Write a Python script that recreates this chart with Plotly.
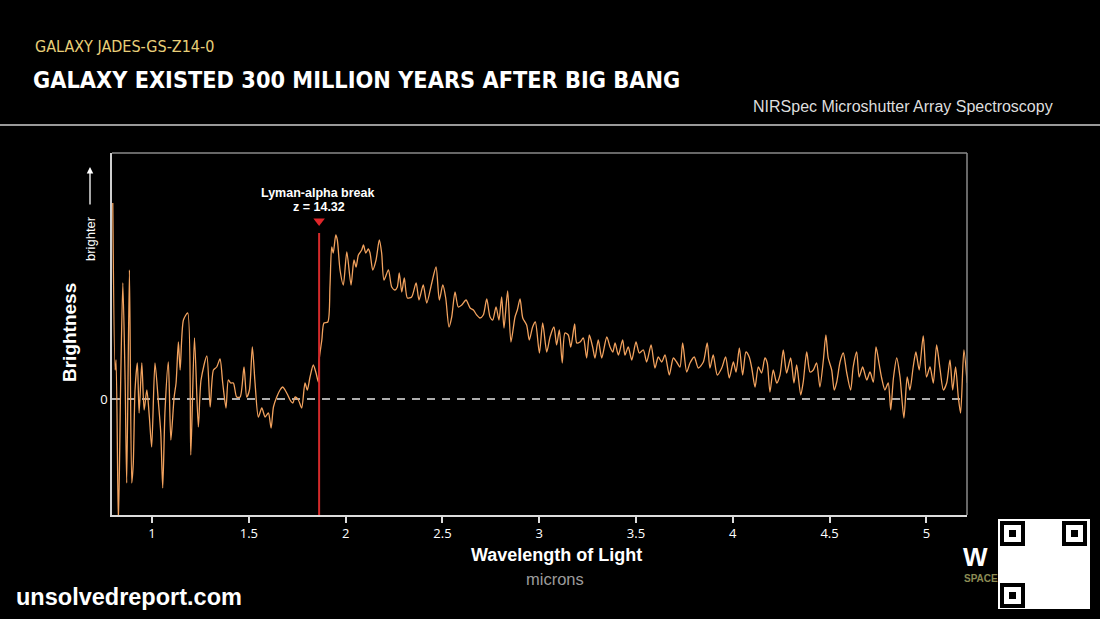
import plotly.graph_objects as go

# Wavelength (microns) and brightness (arbitrary units, 0 = no flux)
wavelength = [
    0.797, 0.809, 0.814, 0.826, 0.838, 0.849, 0.861, 0.869, 0.883, 0.895, 0.903, 0.912,
    0.924, 0.933, 0.947, 0.959, 0.973, 0.986, 0.998, 1.015, 1.033, 1.045, 1.055, 1.067,
    1.084, 1.097, 1.114, 1.124, 1.136, 1.145, 1.162, 1.184, 1.200, 1.219, 1.239, 1.253,
    1.283, 1.300, 1.317, 1.334, 1.351, 1.365, 1.382, 1.394, 1.406, 1.420, 1.437, 1.455,
    1.475, 1.489, 1.503, 1.518, 1.532, 1.549, 1.567, 1.584, 1.601, 1.615, 1.627, 1.644,
    1.661, 1.675, 1.687, 1.701, 1.713, 1.727, 1.739, 1.756, 1.773, 1.790, 1.802, 1.816,
    1.833, 1.847, 1.859,
    1.863, 1.877, 1.888, 1.908, 1.919, 1.928, 1.936, 1.949, 1.957, 1.971, 1.988, 2.006,
    2.028, 2.043, 2.054, 2.066, 2.083, 2.092, 2.104, 2.117, 2.126, 2.140, 2.157, 2.174,
    2.186, 2.198, 2.221, 2.238, 2.255, 2.267, 2.277, 2.290, 2.303, 2.319, 2.341, 2.364,
    2.379, 2.401, 2.419, 2.445, 2.467, 2.484, 2.502, 2.517, 2.534, 2.548, 2.565, 2.582,
    2.600, 2.622, 2.643, 2.660, 2.677, 2.694, 2.711, 2.729, 2.746, 2.760, 2.777, 2.792,
    2.806, 2.818, 2.837, 2.854, 2.875, 2.887, 2.901, 2.915, 2.935, 2.949, 2.966, 2.980,
    3.001, 3.018, 3.039, 3.056, 3.076, 3.090, 3.104, 3.119, 3.133, 3.150, 3.163, 3.183,
    3.194, 3.211,
    3.228, 3.245, 3.259, 3.276, 3.288, 3.305, 3.323, 3.349, 3.366, 3.380, 3.392, 3.409,
    3.431, 3.443, 3.460, 3.478, 3.500, 3.517, 3.538, 3.555, 3.578, 3.598, 3.615, 3.633,
    3.650, 3.672, 3.693, 3.710, 3.727, 3.741, 3.762, 3.779, 3.801, 3.822, 3.848, 3.868,
    3.882, 3.899, 3.920, 3.943, 3.963, 3.982, 4.003, 4.017, 4.034, 4.051, 4.068, 4.085,
    4.098, 4.115, 4.132, 4.149, 4.166, 4.178, 4.192,
    4.209, 4.227, 4.244, 4.261, 4.278, 4.299, 4.316, 4.330, 4.351, 4.364, 4.382, 4.399,
    4.416, 4.433, 4.450, 4.468, 4.481, 4.493, 4.511, 4.524, 4.537, 4.554, 4.571, 4.588,
    4.609, 4.622, 4.640, 4.653, 4.671, 4.692, 4.709, 4.726, 4.740, 4.757, 4.769, 4.786,
    4.803, 4.816, 4.830, 4.847, 4.864, 4.884, 4.901, 4.915, 4.932, 4.946, 4.963, 4.984,
    5.001, 5.019, 5.036, 5.053, 5.070, 5.088, 5.105, 5.122, 5.136, 5.151, 5.165, 5.177,
    5.194, 5.211,
]
brightness = [
    19.6, 2.9, 3.9, -12.5, 1.9, 11.6, 1.6, -8.4, 12.9, -8.4, -6.4, 0.9,
    3.6, -1.4, 3.6, -1.1, 0.9, -1.8, -4.8, 3.6, -0.4, -3.4, -8.9, -1.1,
    3.7, -4.1, 0.2, 1.6, 5.7, 2.9, 7.9, 8.6, -5.6, 6.1, -2.8, 1.9,
    4.3, -0.8, 2.9, 3.2, 4.0, 1.6, -0.9, 1.9, 1.6, 1.6, 0.2, 0.2,
    3.2, 0.2, 0.9, 5.2, 1.6, -1.8, -0.9, -1.8, -1.4, -2.9, -0.8, 0.2,
    0.9, 1.2, 0.9, 0.4, -0.1, -0.4, 0.2, -0.1, -0.9, 1.6, 0.9, 2.2,
    3.4, 2.6, 1.7,
    3.9, 5.9, 7.6, 7.7, 11.2, 15.2, 14.6, 16.4, 15.9, 12.9, 11.4, 14.7,
    11.4, 13.9, 13.2, 14.4, 14.9, 15.4, 14.6, 15.0, 14.6, 12.9, 13.9, 15.9,
    14.6, 11.9, 12.9, 11.2, 10.9, 11.2, 12.6, 10.7, 12.1, 10.1, 10.2, 11.6,
    9.9, 11.4, 9.6, 11.6, 13.2, 9.9, 11.4, 10.1, 7.2, 8.2, 10.7, 9.2,
    9.4, 9.9, 9.1, 8.9, 8.4, 8.1, 8.4, 10.0, 8.2, 7.9, 9.2, 7.9,
    10.2, 7.1, 10.8, 5.7, 8.2, 8.9, 10.0, 8.1, 7.4, 5.9, 7.2, 7.7,
    4.6, 7.6, 4.7, 6.2, 7.2, 5.4, 6.9, 3.6, 6.6, 6.4, 5.2, 7.5,
    5.6, 5.7,
    6.1, 4.1, 6.4, 5.2, 4.1, 5.9, 4.1, 6.2, 5.2, 4.7, 5.6, 4.4,
    5.9, 4.4, 5.2, 3.9, 5.7, 4.6, 4.9, 3.7, 5.4, 3.1, 4.2, 3.7,
    4.4, 2.4, 4.1, 3.7, 3.2, 5.6, 2.7, 3.6, 4.2, 3.1, 3.7, 5.6,
    3.1, 4.4, 2.4, 3.1, 4.2, 2.1, 3.7, 2.7, 5.1, 2.4, 4.7, 4.2,
    3.1, 1.2, 3.2, 2.6, 4.1, 3.6, 0.7,
    2.9, 1.6, 2.4, 4.9, 2.6, 4.1, 1.6, 3.4, 0.4, 1.7, 4.7, 2.7,
    2.9, 3.6, 1.2, 3.9, 6.4, 4.1, 2.9, 0.9, 1.7, 3.7, 4.6, 2.7,
    0.9, 3.2, 4.7, 2.2, 3.2, 1.9, 2.7, 1.7, 5.2, 3.4, 2.1, 0.9,
    1.6, -1.1, 2.1, 4.1, 2.2, -1.9, 2.2, 0.9, 3.2, 4.7, 2.9, 6.3,
    2.2, 3.2, 1.6, 5.4, 3.1, 0.9, 1.6, 3.9, 0.9, 3.2, 0.2, -1.4,
    4.9, 1.6,
]

x_ticks = [1, 1.5, 2, 2.5, 3, 3.5, 4, 4.5, 5]
x_tick_labels = ["1", "1.5", "2", "2.5", "3", "3.5", "4", "4.5", "5"]
x_range = [0.793, 5.21]
y_range = [-11.6, 24.6]

break_wavelength = 1.863   # Lyman-alpha break, z = 14.32
break_top = 16.6
marker_level = 17.8

fig = go.Figure()

# zero line
fig.add_trace(go.Scatter(
    x=x_range, y=[0, 0], mode="lines",
    line=dict(color="#e6e6e6", width=1.3, dash="8px,7px"),
    hoverinfo="skip", showlegend=False,
))

# spectrum
fig.add_trace(go.Scatter(
    x=wavelength, y=brightness, mode="lines",
    line=dict(color="#f2a25e", width=1.3, shape="spline", smoothing=0.7),
    showlegend=False,
))

# Lyman-alpha break line
fig.add_trace(go.Scatter(
    x=[break_wavelength, break_wavelength], y=[y_range[0], break_top], mode="lines",
    line=dict(color="#d42a2a", width=2),
    hoverinfo="skip", showlegend=False,
))
fig.add_trace(go.Scatter(
    x=[break_wavelength], y=[marker_level], mode="markers",
    marker=dict(symbol="triangle-down", size=10, color="#e0262a"),
    hoverinfo="skip", showlegend=False,
))

fig.update_layout(
    width=1100, height=619,
    paper_bgcolor="black", plot_bgcolor="black",
    margin=dict(l=112, r=133, t=153, b=104),
    xaxis=dict(
        range=x_range, tickvals=x_ticks, ticktext=x_tick_labels,
        showgrid=False, zeroline=False,
        showline=True, linecolor="#dcdcdc", linewidth=1.5,
        ticks="outside", ticklen=6, tickcolor="#dcdcdc", tickwidth=1.5,
        tickfont=dict(color="white", size=13, family="Open Sans"),
    ),
    yaxis=dict(
        range=y_range, tickvals=[0], ticktext=["0"],
        showgrid=False, zeroline=False,
        showline=True, linecolor="#cfcfcf", linewidth=1.5,
        ticks="", tickfont=dict(color="white", size=13, family="Open Sans"),
    ),
    font=dict(family="Liberation Sans", color="white"),
)

# top & right frame (gray)
fig.add_shape(type="line", xref="paper", yref="paper", x0=0, x1=1, y0=1, y1=1,
              line=dict(color="#8a8a8a", width=1.5))
fig.add_shape(type="line", xref="paper", yref="paper", x0=1, x1=1, y0=0, y1=1,
              line=dict(color="#8a8a8a", width=1.5))

# header separator
fig.add_shape(type="line", xref="paper", yref="paper",
              x0=-112 / 855, x1=(1100 - 112) / 855,
              y0=(515 - 125) / 362, y1=(515 - 125) / 362,
              line=dict(color="#9a9a9a", width=2))

def px(x):
    return (x - 112) / 855

def py(y):
    return (515 - y) / 362

annos = [
    dict(text="GALAXY JADES-GS-Z14-0", x=px(33), y=py(47), xanchor="left", yanchor="middle",
         font=dict(family="DejaVu Sans Condensed", size=16, color="#e9cf78")),
    dict(text="<b>GALAXY EXISTED 300 MILLION YEARS AFTER BIG BANG</b>", x=px(31), y=py(80),
         xanchor="left", yanchor="middle",
         font=dict(family="DejaVu Sans Condensed", size=23.3, color="white"), ),
    dict(text="NIRSpec Microshutter Array Spectroscopy", x=px(1055), y=py(106),
         xanchor="right", yanchor="middle",
         font=dict(family="Liberation Sans", size=16, color="#dedede")),
    dict(text="<b>Lyman-alpha break</b>", x=px(318), y=py(193), xanchor="center", yanchor="middle",
         font=dict(family="Liberation Sans", size=12.5, color="white")),
    dict(text="<b>z = 14.32</b>", x=px(319), y=py(207), xanchor="center", yanchor="middle",
         font=dict(family="Liberation Sans", size=12.5, color="white")),
    dict(text="<b>Brightness</b>", x=px(69), y=py(333), xanchor="center", yanchor="middle",
         textangle=-90, font=dict(family="Liberation Sans", size=19, color="white")),
    dict(text="brighter", x=px(90), y=py(239), xanchor="center", yanchor="middle",
         textangle=-90, font=dict(family="Liberation Sans", size=13, color="white")),
    dict(text="<b>Wavelength of Light</b>", x=px(556), y=py(555), xanchor="center", yanchor="middle",
         font=dict(family="Liberation Sans", size=18, color="white")),
    dict(text="microns", x=px(555), y=py(579), xanchor="center", yanchor="middle",
         font=dict(family="Liberation Sans", size=16.5, color="#9c9c9c")),
    dict(text="<b>unsolvedreport.com</b>", x=px(14), y=py(597), xanchor="left", yanchor="middle",
         font=dict(family="Liberation Sans", size=23.5, color="white")),
    dict(text="<b>W</b>", x=px(961), y=py(557), xanchor="left", yanchor="middle",
         font=dict(family="Liberation Sans", size=26, color="white")),
    dict(text="<b>SPACE</b>", x=px(962), y=py(578), xanchor="left", yanchor="middle",
         font=dict(family="Liberation Sans", size=10, color="#8c8c55")),
]
for a in annos:
    a.update(xref="paper", yref="paper", showarrow=False)
    fig.add_annotation(**a)

# "brighter" arrow
fig.add_annotation(xref="paper", yref="paper", axref="pixel", ayref="pixel",
                   x=px(90), y=py(167), ax=0, ay=39, text="",
                   showarrow=True, arrowhead=2, arrowsize=1, arrowwidth=1.3, arrowcolor="white")

# QR-code block (decorative)
fig.add_shape(type="rect", xref="paper", yref="paper",
              x0=px(998), x1=px(1090), y0=py(609), y1=py(519),
              fillcolor="white", line=dict(width=0))
for (qx, qy) in [(1002, 523), (1064, 523), (1002, 585)]:
    fig.add_shape(type="rect", xref="paper", yref="paper",
                  x0=px(qx), x1=px(qx + 21), y0=py(qy + 21), y1=py(qy),
                  fillcolor="white", line=dict(color="black", width=4))
    fig.add_shape(type="rect", xref="paper", yref="paper",
                  x0=px(qx + 7), x1=px(qx + 14), y0=py(qy + 14), y1=py(qy + 7),
                  fillcolor="black", line=dict(width=0))

fig.write_html("out.html")
